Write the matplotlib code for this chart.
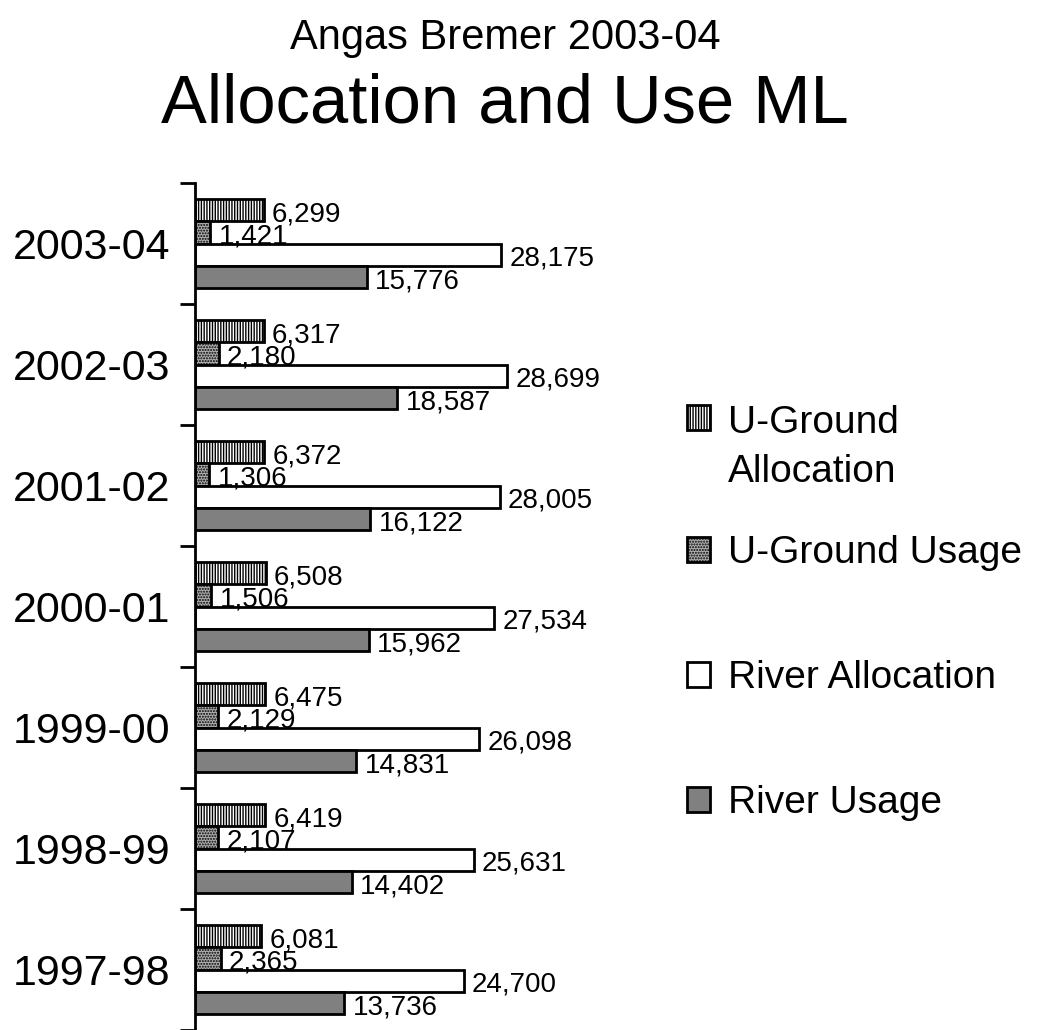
import numpy as np
import matplotlib.pyplot as plt

plt.rcParams['font.family'] = ['Liberation Sans', 'DejaVu Sans']
plt.rcParams['hatch.linewidth'] = 1.0

years = ['1997-98', '1998-99', '1999-00', '2000-01', '2001-02', '2002-03', '2003-04']
ug_alloc = [6081, 6419, 6475, 6508, 6372, 6317, 6299]
ug_usage = [2365, 2107, 2129, 1506, 1306, 2180, 1421]
river_alloc = [24700, 25631, 26098, 27534, 28005, 28699, 28175]
river_usage = [13736, 14402, 14831, 15962, 16122, 18587, 15776]

fig = plt.figure(figsize=(10.39, 10.30), dpi=100)
ax = fig.add_axes([195 / 1039, 0.0, 435 / 1039, 1 - 183 / 1030])

y = np.arange(len(years))
h = 0.185
series = [
    (ug_alloc, 'U-Ground\nAllocation', 'white', '||||||'),
    (ug_usage, 'U-Ground Usage', '#b0b0b0', '......'),
    (river_alloc, 'River Allocation', 'white', None),
    (river_usage, 'River Usage', '#808080', None),
]
offsets = [1.5 * h, 0.5 * h, -0.5 * h, -1.5 * h]
handles = []
for (vals, lab, fc, hat), off in zip(series, offsets):
    bars = ax.barh(y + off, vals, height=h, color=fc, edgecolor='black',
                   linewidth=2, hatch=hat, label=lab)
    # labels sit a little below the bar centre, as in the original
    for v, yy in zip(vals, y + off):
        ax.annotate(f'{v:,}', (v, yy), xytext=(6, -3), textcoords='offset points',
                    fontsize=20, va='center', ha='left')
    handles.append(bars)

ax.set_xlim(0, 40000)
ax.set_ylim(-0.5, len(years) - 0.5)
ax.set_yticks(y)
ax.set_yticklabels(years, fontsize=31)
ax.set_yticks(np.arange(-0.5, len(years)), minor=True)
ax.tick_params(axis='y', which='major', length=0, pad=18)
ax.tick_params(axis='y', which='minor', length=11, width=2, direction='out')
ax.set_xticks([])
for s in ['top', 'right', 'bottom']:
    ax.spines[s].set_visible(False)
ax.spines['left'].set_linewidth(2)

fig.text(0.486, 0.952, 'Angas Bremer 2003-04', fontsize=30, ha='center', va='baseline')
fig.text(0.486, 0.881, 'Allocation and Use ML', fontsize=49.5, ha='center', va='baseline')

# legend in two pieces: the two-line entry, then the other three evenly spaced
leg_kw = dict(frameon=False, fontsize=28, handlelength=0.6, handleheight=0.6,
              handletextpad=0.45, borderpad=0, borderaxespad=0)
leg1 = fig.legend(handles=handles[:1], loc='upper left',
                  bbox_to_anchor=(687 / 1039, 1 - 405 / 1030), **leg_kw)
leg1.get_texts()[0].set_linespacing(1.45)
for col in leg1._legend_handle_box.get_children():
    for row in col.get_children():
        row.align = 'top'
fig.legend(handles=handles[1:], loc='center left',
           bbox_to_anchor=(687 / 1039, 1 - 678 / 1030), labelspacing=2.29, **leg_kw)

fig.savefig('out.png', dpi=100)
